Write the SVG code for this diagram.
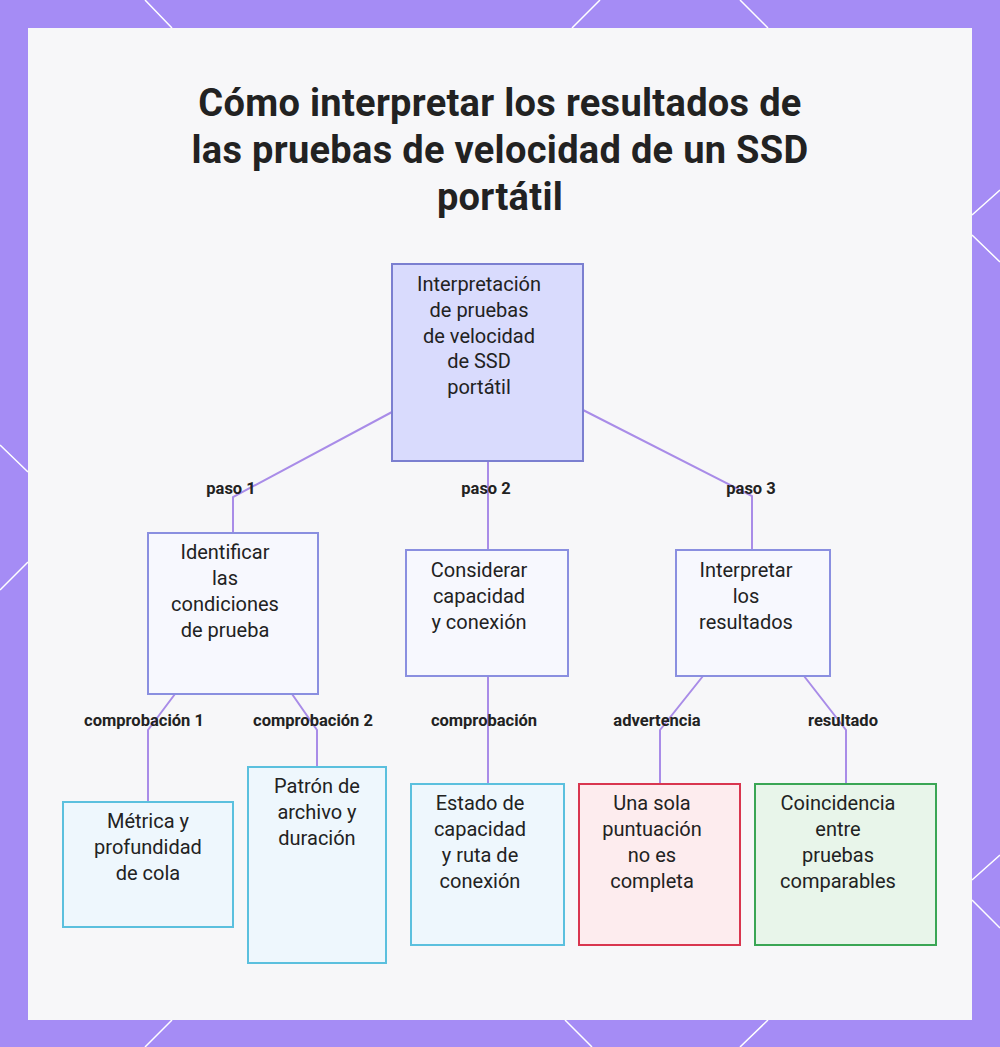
<svg xmlns="http://www.w3.org/2000/svg" width="1000" height="1047" viewBox="0 0 1000 1047">
<style>
.t{font-family:Roboto,"Liberation Sans",sans-serif;fill:#222;text-anchor:middle}
.n{font-size:20px}
.l{font-size:16.5px;font-weight:bold}
.c{fill:none;stroke:#a98ce8;stroke-width:2}
.deco{stroke:#fff;stroke-width:1.5;fill:none}
</style>
<rect width="1000" height="1047" fill="#a58cf5"/>
<g class="deco">
<path d="M145 0L172 28M600 0L572 28M740 0L768 28M0 445L28 472M0 590L28 562M972 215L1000 190M972 235L1000 262M972 880L1000 855M972 900L1000 928M145 1047L172 1020M565 1020L592 1047M740 1047L768 1020"/>
</g>
<rect x="28" y="28" width="944" height="992" fill="#f7f7f9"/>
<text x="500" y="116" class="t" style="font-size:38px;font-weight:bold;letter-spacing:0.3px">Cómo interpretar los resultados de</text>
<text x="500" y="163" class="t" style="font-size:38px;font-weight:bold;letter-spacing:0.3px">las pruebas de velocidad de un SSD</text>
<text x="500" y="210" class="t" style="font-size:38px;font-weight:bold;letter-spacing:0.3px">portátil</text>
<g id="connectors">
<path class="c" d="M392 412L233 497V533"/>
<path class="c" d="M488 461V550"/>
<path class="c" d="M583 410L752 496V550"/>
<path class="c" d="M175 694L148 730V802"/>
<path class="c" d="M292 694L317 730V767"/>
<path class="c" d="M488 676V784"/>
<path class="c" d="M703 676L660 730V784"/>
<path class="c" d="M804 676L846 730V784"/>
<text x="231" y="494" class="t l">paso 1</text>
<text x="486" y="494" class="t l">paso 2</text>
<text x="751" y="494" class="t l">paso 3</text>
<text x="144" y="726" class="t l">comprobación 1</text>
<text x="313" y="726" class="t l">comprobación 2</text>
<text x="484" y="726" class="t l">comprobación</text>
<text x="657" y="726" class="t l">advertencia</text>
<text x="843" y="726" class="t l">resultado</text>
</g>
<g id="root"><rect x="392" y="264" width="191" height="197" fill="#d9dbfd" stroke="#7b7fd0" stroke-width="2"/>
<text class="t n"><tspan x="479" y="291">Interpretación</tspan><tspan x="479" y="317">de pruebas</tspan><tspan x="479" y="343">de velocidad</tspan><tspan x="479" y="368">de SSD</tspan><tspan x="479" y="394">portátil</tspan></text></g>
<g id="n1"><rect x="148" y="533" width="170" height="161" fill="#f7f8fe" stroke="#8a8fe0" stroke-width="2"/>
<text class="t n"><tspan x="225" y="559">Identificar</tspan><tspan x="225" y="585">las</tspan><tspan x="225" y="611">condiciones</tspan><tspan x="225" y="637">de prueba</tspan></text></g>
<g id="n2"><rect x="406" y="550" width="162" height="126" fill="#f7f8fe" stroke="#8a8fe0" stroke-width="2"/>
<text class="t n"><tspan x="479" y="577">Considerar</tspan><tspan x="479" y="603">capacidad</tspan><tspan x="479" y="629">y conexión</tspan></text></g>
<g id="n3"><rect x="676" y="550" width="154" height="126" fill="#f7f8fe" stroke="#8a8fe0" stroke-width="2"/>
<text class="t n"><tspan x="746" y="577">Interpretar</tspan><tspan x="746" y="603">los</tspan><tspan x="746" y="629">resultados</tspan></text></g>
<g id="l1"><rect x="63" y="802" width="170" height="125" fill="#eef7fd" stroke="#5bc0de" stroke-width="2"/>
<text class="t n"><tspan x="148" y="828">Métrica y</tspan><tspan x="148" y="854">profundidad</tspan><tspan x="148" y="880">de cola</tspan></text></g>
<g id="l2"><rect x="248" y="767" width="138" height="196" fill="#eef7fd" stroke="#5bc0de" stroke-width="2"/>
<text class="t n"><tspan x="317" y="793">Patrón de</tspan><tspan x="317" y="819">archivo y</tspan><tspan x="317" y="845">duración</tspan></text></g>
<g id="l3"><rect x="411" y="784" width="153" height="161" fill="#eef7fd" stroke="#5bc0de" stroke-width="2"/>
<text class="t n"><tspan x="480" y="810">Estado de</tspan><tspan x="480" y="836">capacidad</tspan><tspan x="480" y="862">y ruta de</tspan><tspan x="480" y="888">conexión</tspan></text></g>
<g id="l4"><rect x="579" y="784" width="161" height="161" fill="#fdecee" stroke="#d9364f" stroke-width="2"/>
<text class="t n"><tspan x="652" y="810">Una sola</tspan><tspan x="652" y="836">puntuación</tspan><tspan x="652" y="862">no es</tspan><tspan x="652" y="888">completa</tspan></text></g>
<g id="l5"><rect x="755" y="784" width="181" height="161" fill="#e8f5ea" stroke="#3aa655" stroke-width="2"/>
<text class="t n"><tspan x="838" y="810">Coincidencia</tspan><tspan x="838" y="836">entre</tspan><tspan x="838" y="862">pruebas</tspan><tspan x="838" y="888">comparables</tspan></text></g>
</svg>
